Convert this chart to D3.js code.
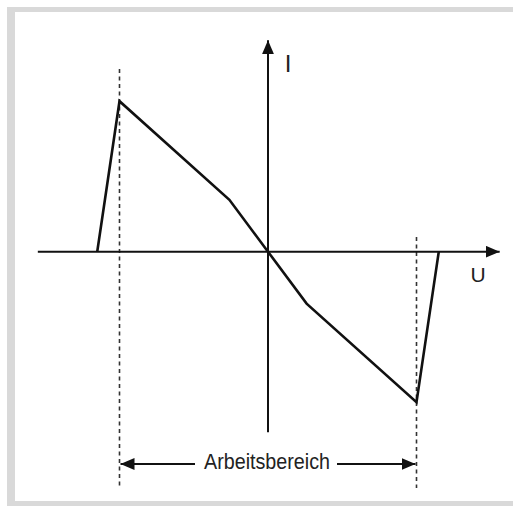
<!DOCTYPE html>
<html><head><meta charset="utf-8">
<script src="https://cdn.jsdelivr.net/npm/d3@7"></script>
<style>html,body{margin:0;padding:0;background:#fff;}svg{display:block;}</style>
</head><body>
<svg id="c" width="513" height="506"></svg>
<script>
// Characteristic curve I(U), normalized units
const uValues = [-1.15, -1.0, -0.26, 0, 0.26, 1.0, 1.15];
const iValues = [0, 1.0, 0.345, 0, -0.345, -1.0, 0];
// Axis extents (data units)
const uAxisExtent = [-1.55, 1.56];
const iAxisExtent = [-1.2, 1.405];
// Working range boundaries
const workRange = [-1.0, 1.0];
const axisLabels = ["U", "I"];
const rangeLabel = "Arbeitsbereich";

const svg = d3.select("#c");
const x = d3.scaleLinear().domain([-1, 1]).range([119.5, 416.5]);
const y = d3.scaleLinear().domain([-1, 1]).range([402.2, 101.2]);
const ink = "#111";

// scan border
svg.append("rect").attr("x",7).attr("y",7).attr("width",506).attr("height",5).attr("fill","#d9d9d9");
svg.append("rect").attr("x",7).attr("y",7).attr("width",8).attr("height",499).attr("fill","#d9d9d9");
svg.append("rect").attr("x",7).attr("y",501).attr("width",506).attr("height",5).attr("fill","#d9d9d9");

const defs = svg.append("defs");
function marker(id){
  defs.append("marker").attr("id",id).attr("viewBox","0 0 14 12")
    .attr("refX",14).attr("refY",6).attr("markerWidth",14).attr("markerHeight",12)
    .attr("markerUnits","userSpaceOnUse").attr("orient","auto-start-reverse")
    .append("path").attr("d","M0,0 L14,6 L0,12 Z").attr("fill",ink);
}
marker("arr");

// dashed working range lines
svg.append("line").attr("x1",x(workRange[0])).attr("x2",x(workRange[0]))
  .attr("y1",69).attr("y2",488).attr("stroke","#333").attr("stroke-width",1.6).attr("stroke-dasharray","4,3.5");
svg.append("line").attr("x1",x(workRange[1])).attr("x2",x(workRange[1]))
  .attr("y1",237).attr("y2",488).attr("stroke","#333").attr("stroke-width",1.6).attr("stroke-dasharray","4,3.5");

// axes
svg.append("line").attr("x1",x(uAxisExtent[0])).attr("x2",x(uAxisExtent[1]))
  .attr("y1",y(0)).attr("y2",y(0)).attr("stroke",ink).attr("stroke-width",2).attr("marker-end","url(#arr)");
svg.append("line").attr("x1",x(0)).attr("x2",x(0))
  .attr("y1",y(iAxisExtent[0])).attr("y2",y(iAxisExtent[1])).attr("stroke",ink).attr("stroke-width",2).attr("marker-end","url(#arr)");

// curve
const pts = uValues.map((u,k)=>[x(u), y(iValues[k])]);
svg.append("path").attr("d", d3.line()(pts)).attr("fill","none")
  .attr("stroke",ink).attr("stroke-width",2.6).attr("stroke-linejoin","miter");

// axis labels
svg.append("text").attr("x",478).attr("y",282).attr("text-anchor","middle")
  .attr("font-family","Liberation Sans, Arial, sans-serif").attr("font-size",21).attr("fill","#222").text(axisLabels[0]);
svg.append("text").attr("x",288).attr("y",72).attr("text-anchor","middle")
  .attr("font-family","Liberation Sans, Arial, sans-serif").attr("font-size",24).attr("fill","#222").text(axisLabels[1]);

// range arrows
svg.append("line").attr("x1",195).attr("x2",x(workRange[0])+1).attr("y1",464).attr("y2",464)
  .attr("stroke",ink).attr("stroke-width",2).attr("marker-end","url(#arr)");
svg.append("line").attr("x1",337).attr("x2",x(workRange[1])-1).attr("y1",464).attr("y2",464)
  .attr("stroke",ink).attr("stroke-width",2).attr("marker-end","url(#arr)");
svg.append("text").attr("x",204).attr("y",469).attr("textLength",126).attr("lengthAdjust","spacingAndGlyphs")
  .attr("font-family","Liberation Sans, Arial, sans-serif").attr("font-size",21.5).attr("fill","#222").text(rangeLabel);
</script>
</body></html>
